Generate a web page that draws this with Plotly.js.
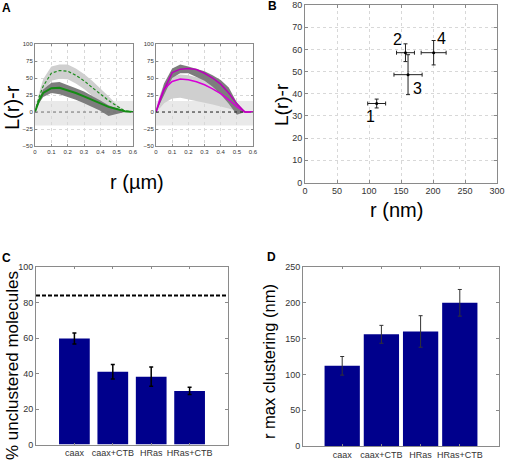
<!DOCTYPE html>
<html>
<head>
<meta charset="utf-8">
<script src="https://cdn.plot.ly/plotly-3.0.1.min.js"></script>
<style>html,body{margin:0;padding:0;background:#fff;}#chart{width:506px;height:462px;}</style>
</head>
<body>
<div id="chart"></div>
<script>
// ---------- DATA ----------
// Panel A: L(r)-r curves (r in µm)
const rGrid = [0, 0.025, 0.05, 0.1, 0.15, 0.2, 0.25, 0.3, 0.35, 0.4, 0.45, 0.5, 0.55, 0.6];
// left plot
const caaxMean  = [0, 17, 28, 35, 35.5, 32, 28, 23, 18, 12, 7.5, 4.5, 1, 0];
const caaxUpper = [0, 20, 33, 43, 44, 40, 35, 30, 24, 17, 10, 6, 1, 0];
const caaxLower = [0, 13, 22, 28, 26, 22, 18, 13, 8, 2, -6, -3, 0, 0];
const caaxCtbMean  = [0, 22, 38, 57, 61, 60, 54, 46, 36, 26, 17, 9, 1.5, 0];
const caaxCtbUpper = [0, 28, 48, 67, 70, 70, 64, 56, 46, 35, 23, 11, 2, 0];
const caaxCtbLower = [0, 15, 28, 46, 49, 48, 42, 34, 24, 14, 6, 0, 0, 0];
// right plot
const hrasCtbMean  = [0, 17, 33, 58, 63, 64, 62.5, 57, 50, 41, 28, 12, 0, 0];
const hrasCtbUpper = [0, 22, 42, 64, 70, 67, 64, 60, 54, 47, 36, 14, 0, 0];
const hrasCtbLower = [0, 12, 25, 50, 57, 57, 52, 46, 37, 26, 12, -4, 0, 0];
const hrasMean  = [0, 20, 34, 45, 48.5, 47.5, 44.5, 40, 34, 27, 18, 8, 0, 0];
const hrasUpper = [0, 26, 42, 52, 55, 54, 51, 48, 41, 33, 22, 9, 0, 0];
const hrasLower = [0, 6, 13, 20, 21, 19, 16, 13.5, 11, 8.5, 5, 1, 0, 0];
const nullBand = [-20, 16];      // random-distribution confidence band
const zeroLineEnd = 0.55;

// Panel B: max clustering position
const pointLabels = ['1', '2', '3', '4'];
const rMaxNm   = [112, 157, 161, 201];
const rMaxErr  = [14, 14, 22, 19.5];
const lMax     = [35.6, 58.5, 48.6, 58.5];
const lMaxErr  = [2, 4, 9, 5.5];

// Panels C & D
const categories = ['caax', 'caax+CTB', 'HRas', 'HRas+CTB'];
const catPos = [1, 2, 3, 4];
const unclustered    = [59.7, 41, 38.2, 30.2];
const unclusteredErr = [3.1, 4.1, 5.4, 2.1];
const randomLevel = 84;
const rMaxClust    = [112, 156, 160, 200];
const rMaxClustErr = [13, 12.5, 22, 18.6];

// ---------- LAYOUT HELPERS ----------
const W = 506, H = 462;
const FONT = 'Liberation Sans, Arial, Helvetica, sans-serif';
const px = v => v / W;
const py = v => 1 - v / H;
const dom = (x0, x1) => [px(x0), px(x1)];
const domY = (y0, y1) => [py(y1), py(y0)];

function band(x, up, lo, color, xa, ya) {
  return {x: x.concat(x.slice().reverse()), y: up.concat(lo.slice().reverse()),
    fill: 'toself', fillcolor: color, line: {width: 0}, mode: 'lines',
    hoverinfo: 'skip', showlegend: false, xaxis: xa, yaxis: ya};
}
function line(x, y, color, width, dash, xa, ya) {
  return {x: x, y: y, mode: 'lines', line: {color: color, width: width, dash: dash},
    showlegend: false, xaxis: xa, yaxis: ya};
}

const LIGHT = '#cfcfcf', DARK = '#7d7d7d';
const traces = [
  band(rGrid, caaxCtbUpper, caaxCtbLower, LIGHT, 'x', 'y'),
  band(rGrid, caaxUpper, caaxLower, DARK, 'x', 'y'),
  line(rGrid, caaxCtbMean, 'rgb(30,140,30)', 1.2, '3px,2px', 'x', 'y'),
  line(rGrid, caaxMean, 'rgb(20,140,20)', 2, 'solid', 'x', 'y'),
  band(rGrid, hrasUpper, hrasLower, LIGHT, 'x2', 'y2'),
  band(rGrid, hrasCtbUpper, hrasCtbLower, DARK, 'x2', 'y2'),
  line(rGrid, hrasMean, 'rgb(215,0,215)', 1.6, 'solid', 'x2', 'y2'),
  line(rGrid, hrasCtbMean, 'rgb(185,0,185)', 1.5, 'solid', 'x2', 'y2'),
  {x: rMaxNm, y: lMax, mode: 'markers', xaxis: 'x3', yaxis: 'y3', showlegend: false,
    marker: {color: '#000', size: 3},
    error_x: {type: 'data', array: rMaxErr, color: '#222', thickness: 1, width: 2},
    error_y: {type: 'data', array: lMaxErr, color: '#222', thickness: 1, width: 2}},
  {type: 'bar', x: catPos, y: unclustered, width: 0.8, xaxis: 'x4', yaxis: 'y4', showlegend: false,
    marker: {color: 'rgb(0,0,140)', line: {width: 0}},
    error_y: {type: 'data', array: unclusteredErr, color: '#000', thickness: 1.5, width: 2}},
  {type: 'bar', x: catPos, y: rMaxClust, width: 0.9, xaxis: 'x5', yaxis: 'y5', showlegend: false,
    marker: {color: 'rgb(0,0,140)', line: {width: 0}},
    error_y: {type: 'data', array: rMaxClustErr, color: '#333', thickness: 1, width: 2}}
];

function axis(extra) {
  return Object.assign({
    showline: true, mirror: 'ticks', linecolor: '#8a8a8a', linewidth: 1,
    ticks: 'inside', ticklen: 3, tickcolor: '#8a8a8a', zeroline: false,
    showgrid: false, fixedrange: true,
    tickfont: {family: FONT, size: 9, color: '#333'}
  }, extra);
}
const gridA = {showgrid: true, gridcolor: '#d8d8d8', griddash: 'dot', gridwidth: 1};
const tfA = {family: FONT, size: 6, color: '#333'};

const layout = {
  width: W, height: H, margin: {l: 0, r: 0, t: 0, b: 0},
  paper_bgcolor: '#fff', plot_bgcolor: '#fff', showlegend: false,
  xaxis: axis(Object.assign({domain: dom(35, 133), anchor: 'y', range: [0, 0.6], dtick: 0.1, ticklen: 2, tickfont: tfA}, gridA)),
  yaxis: axis(Object.assign({domain: domY(44, 146), anchor: 'x', range: [-50, 100], dtick: 25, ticklen: 2, tickfont: tfA}, gridA)),
  xaxis2: axis(Object.assign({domain: dom(156, 253), anchor: 'y2', range: [0, 0.6], dtick: 0.1, ticklen: 2, tickfont: tfA}, gridA)),
  yaxis2: axis(Object.assign({domain: domY(44, 146), anchor: 'x2', range: [-50, 100], dtick: 25, ticklen: 2, tickfont: tfA}, gridA)),
  xaxis3: axis(Object.assign({domain: dom(305, 497), anchor: 'y3', range: [0, 300], dtick: 50}, gridA)),
  yaxis3: axis(Object.assign({domain: domY(5, 182.5), anchor: 'x3', range: [0, 80], dtick: 10}, gridA)),
  xaxis4: axis({domain: dom(36, 228), anchor: 'y4', range: [0, 5], tickvals: catPos, ticktext: categories, ticklen: 2}),
  yaxis4: axis({domain: domY(267, 444.5), anchor: 'x4', range: [0, 100], dtick: 20}),
  xaxis5: axis({domain: dom(303, 499), anchor: 'y5', range: [0, 5], tickvals: catPos, ticktext: categories, ticklen: 2}),
  yaxis5: axis({domain: domY(267, 446), anchor: 'x5', range: [0, 250], dtick: 50}),
  shapes: [
    {type: 'rect', xref: 'x', yref: 'y', x0: 0, x1: 0.6, y0: nullBand[0], y1: nullBand[1], fillcolor: '#e9e9e9', line: {width: 0}, layer: 'below'},
    {type: 'rect', xref: 'x2', yref: 'y2', x0: 0, x1: 0.6, y0: nullBand[0], y1: nullBand[1], fillcolor: '#e9e9e9', line: {width: 0}, layer: 'below'},
    {type: 'line', xref: 'x', yref: 'y', x0: 0, x1: zeroLineEnd, y0: 0, y1: 0, line: {color: '#777', width: 1, dash: 'dot'}},
    {type: 'line', xref: 'x2', yref: 'y2', x0: 0, x1: zeroLineEnd, y0: 0, y1: 0, line: {color: '#222', width: 1, dash: 'dot'}},
    {type: 'line', xref: 'x4 domain', yref: 'y4', x0: 0, x1: 1, y0: randomLevel, y1: randomLevel, line: {color: '#000', width: 2, dash: '4px,2px'}}
  ],
  annotations: []
};

const ann = layout.annotations;
function txt(text, x, y, size, opts) {
  ann.push(Object.assign({text: text, xref: 'paper', yref: 'paper', x: px(x), y: py(y),
    xanchor: 'center', yanchor: 'middle', showarrow: false,
    font: {family: FONT, size: size, color: '#000'}}, opts || {}));
}
txt('<b>A</b>', 6, 8, 12);
txt('<b>B</b>', 272, 6, 12);
txt('<b>C</b>', 6, 258, 12);
txt('<b>D</b>', 271, 257, 12);
txt('L(r)-r', 12, 108, 20, {textangle: -90});
txt('r (µm)', 137, 182, 20);
txt('L(r)-r', 281, 105, 19, {textangle: -90});
txt('r (nm)', 396, 210, 20);
txt('% unclustered molecules', 12, 366, 17, {textangle: -90});
txt('r max clustering (nm)', 269, 362, 16.5, {textangle: -90});

const labelShift = [[-6, -13], [-8, 13], [9, -14], [8, 14]];
pointLabels.forEach((t, i) => {
  ann.push({text: t, xref: 'x3', yref: 'y3', x: rMaxNm[i], y: lMax[i], showarrow: false,
    xshift: labelShift[i][0], yshift: labelShift[i][1],
    font: {family: FONT, size: 16, color: '#000'}});
});

Plotly.newPlot('chart', traces, layout, {staticPlot: true, displayModeBar: false});
</script>
</body>
</html>
